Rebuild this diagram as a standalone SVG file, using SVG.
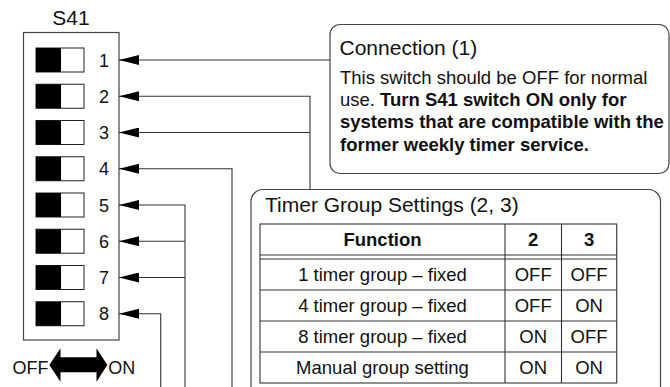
<svg xmlns="http://www.w3.org/2000/svg" width="670" height="387" viewBox="0 0 670 387">
<style>
text{font-family:"Liberation Sans",Arial,sans-serif;fill:#111}
.t{font-size:21px}
.b{font-size:18.5px}
.bd{font-weight:bold}
.d{font-size:18px;text-anchor:middle}
.c{text-anchor:middle}
.box{fill:#fff;stroke:#444;stroke-width:1.2}
.ln{fill:none;stroke:#333;stroke-width:1.1}
.sw{fill:#fff;stroke:#222;stroke-width:1}
.blk{fill:#000}
</style>
<defs>
<marker id="ah" viewBox="0 0 20 10" refX="20" refY="5" markerWidth="20" markerHeight="10" markerUnits="userSpaceOnUse" orient="auto">
<path d="M0,0 L20,5 L0,10 z" fill="#000"/>
</marker>
</defs>
<rect width="670" height="387" fill="#fff"/>

<g id="s41">
<text class="t c" x="71" y="25">S41</text>
<rect class="box" x="23.5" y="32.5" width="95.5" height="307.5"/>
<g id="sw1"><rect class="sw" x="36" y="48" width="48" height="24"/><rect class="blk" x="36" y="48" width="25" height="24"/><text class="d" x="104" y="66.5">1</text></g>
<g id="sw2"><rect class="sw" x="36" y="84.25" width="48" height="24"/><rect class="blk" x="36" y="84.25" width="25" height="24"/><text class="d" x="104" y="102.75">2</text></g>
<g id="sw3"><rect class="sw" x="36" y="120.5" width="48" height="24"/><rect class="blk" x="36" y="120.5" width="25" height="24"/><text class="d" x="104" y="139">3</text></g>
<g id="sw4"><rect class="sw" x="36" y="156.75" width="48" height="24"/><rect class="blk" x="36" y="156.75" width="25" height="24"/><text class="d" x="104" y="175.25">4</text></g>
<g id="sw5"><rect class="sw" x="36" y="193" width="48" height="24"/><rect class="blk" x="36" y="193" width="25" height="24"/><text class="d" x="104" y="211.5">5</text></g>
<g id="sw6"><rect class="sw" x="36" y="229.25" width="48" height="24"/><rect class="blk" x="36" y="229.25" width="25" height="24"/><text class="d" x="104" y="247.75">6</text></g>
<g id="sw7"><rect class="sw" x="36" y="265.5" width="48" height="24"/><rect class="blk" x="36" y="265.5" width="25" height="24"/><text class="d" x="104" y="284">7</text></g>
<g id="sw8"><rect class="sw" x="36" y="301.75" width="48" height="24"/><rect class="blk" x="36" y="301.75" width="25" height="24"/><text class="d" x="104" y="320.25">8</text></g>
</g>

<g id="offon">
<text x="48.5" y="373.5" style="font-size:18px;text-anchor:end">OFF</text>
<polygon points="49.3,365 60.5,348.3 60.5,357.3 96.5,357.3 96.5,348.3 107.3,365 96.5,381.7 96.5,372.3 60.5,372.3 60.5,381.7" fill="#000"/>
<text x="108.3" y="373.5" style="font-size:18px">ON</text>
</g>

<g id="connectors">
<path class="ln" d="M330,60 H119" marker-end="url(#ah)"/>
<path class="ln" d="M310,189.5 V96.25 H119" marker-end="url(#ah)"/>
<path class="ln" d="M310,132.5 H119" marker-end="url(#ah)"/>
<path class="ln" d="M232,390 V168.75 H119" marker-end="url(#ah)"/>
<path class="ln" d="M185,390 V205 H119" marker-end="url(#ah)"/>
<path class="ln" d="M185,241.25 H119" marker-end="url(#ah)"/>
<path class="ln" d="M185,277.5 H119" marker-end="url(#ah)"/>
<path class="ln" d="M160.7,390 V313.75 H119" marker-end="url(#ah)"/>
</g>

<g id="connection">
<rect class="box" x="330" y="24.5" width="339" height="149" rx="10" ry="10"/>
<text class="t" x="339.5" y="55">Connection (1)</text>
<text class="b" x="340" y="84">This switch should be OFF for normal</text>
<text class="b" x="340" y="106.2">use. <tspan class="bd">Turn S41 switch ON only for</tspan></text>
<text class="b bd" x="340" y="128.4">systems that are compatible with the</text>
<text class="b bd" x="340" y="150.6">former weekly timer service.</text>
</g>

<g id="timer">
<path class="box" d="M251,392 V201.5 A12,12 0 0 1 263,189.5 H648.5 A12,12 0 0 1 660.5,201.5 V392"/>
<text class="t" x="265" y="211.7">Timer Group Settings (2, 3)</text>
<g id="table">
<rect x="260" y="224" width="356.7" height="159" fill="none" stroke="#333" stroke-width="1.1"/>
<path d="M505,224 V383 M561.5,224 V383 M260,255 H616.7 M260,259 H616.7 M260,290 H616.7 M260,321 H616.7 M260,352 H616.7" fill="none" stroke="#333" stroke-width="1.1"/>
<text class="b bd c" x="382.5" y="246">Function</text>
<text class="b bd c" x="533.2" y="246">2</text>
<text class="b bd c" x="589.1" y="246">3</text>
<text class="b c" x="382.5" y="281">1 timer group – fixed</text>
<text class="b c" x="533.2" y="281">OFF</text>
<text class="b c" x="589.1" y="281">OFF</text>
<text class="b c" x="382.5" y="312">4 timer group – fixed</text>
<text class="b c" x="533.2" y="312">OFF</text>
<text class="b c" x="589.1" y="312">ON</text>
<text class="b c" x="382.5" y="343">8 timer group – fixed</text>
<text class="b c" x="533.2" y="343">ON</text>
<text class="b c" x="589.1" y="343">OFF</text>
<text class="b c" x="382.5" y="374">Manual group setting</text>
<text class="b c" x="533.2" y="374">ON</text>
<text class="b c" x="589.1" y="374">ON</text>
</g>
</g>
</svg>
